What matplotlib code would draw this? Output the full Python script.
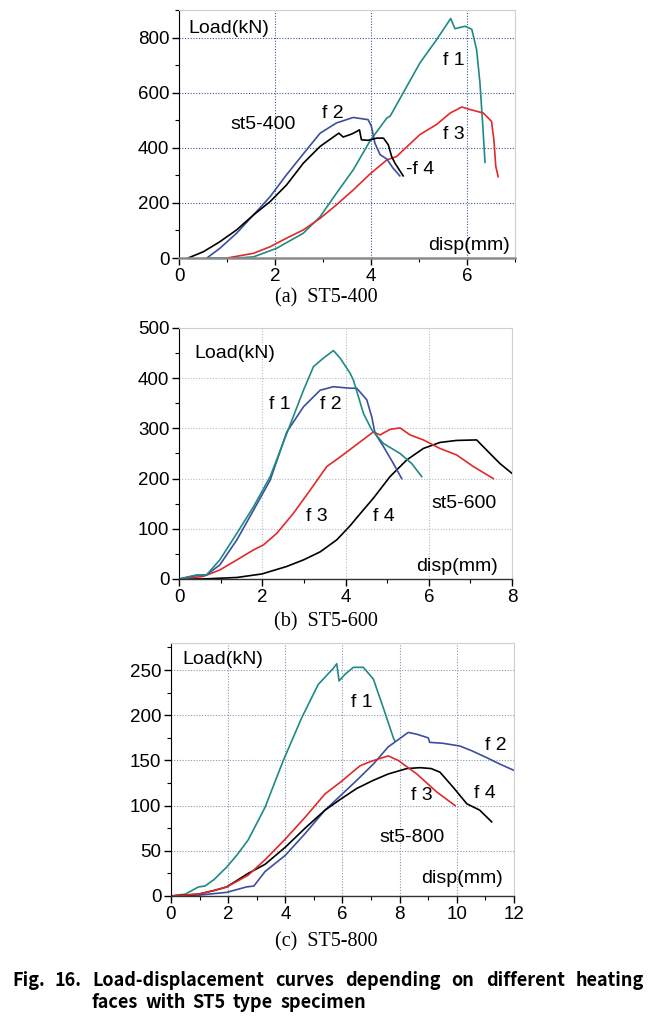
import numpy as np
import matplotlib.pyplot as plt
from matplotlib.ticker import MultipleLocator

plt.rcParams['font.family'] = ['Liberation Sans', 'DejaVu Sans']

TEAL = '#1f8a84'
BLUE = '#3c4f9e'
RED = '#e02a2a'
BLACK = '#000000'

# ---------------- (a) ST5-400 ----------------
a_f1_x = [0.6, 1.2, 1.55, 2.03, 2.59, 2.94, 3.28, 3.63, 3.98, 4.33, 4.4, 4.67, 5.02, 5.37, 5.66, 5.75, 5.96, 6.1, 6.2, 6.27, 6.33, 6.375]
a_f1_y = [0, 0, 4, 35, 90, 150, 235, 320, 425, 508, 515, 599, 708, 793, 869, 832, 841, 830, 756, 635, 477, 347]
a_f2_x = [0.58, 0.85, 1.2, 1.55, 1.9, 2.24, 2.59, 2.94, 3.28, 3.63, 3.94, 4.01, 4.08, 4.19, 4.33, 4.46, 4.6]
a_f2_y = [0, 35, 90, 156, 223, 302, 378, 453, 490, 510, 502, 477, 417, 375, 359, 326, 298]
a_f3_x = [1.0, 1.55, 1.9, 2.24, 2.59, 2.94, 3.28, 3.63, 3.98, 4.33, 4.53, 5.02, 5.37, 5.65, 5.89, 6.06, 6.34, 6.51, 6.56, 6.6, 6.65]
a_f3_y = [0, 17, 41, 72, 102, 144, 193, 247, 305, 356, 368, 448, 485, 526, 548, 539, 526, 496, 429, 332, 295]
a_st_x = [0.19, 0.51, 0.85, 1.2, 1.55, 1.9, 2.24, 2.59, 2.94, 3.28, 3.33, 3.42, 3.6, 3.7, 3.76, 3.8, 3.94, 4.12, 4.26, 4.36, 4.43, 4.5, 4.67]
a_st_y = [0, 23, 59, 102, 156, 205, 265, 344, 405, 447, 453, 439, 450, 459, 465, 429, 427, 435, 435, 411, 368, 344, 298]

# ---------------- (b) ST5-600 ----------------
b_f1_x = [0, 0.42, 0.66, 0.98, 1.39, 1.79, 2.19, 2.59, 2.99, 3.23, 3.47, 3.71, 3.87, 4.11, 4.19, 4.43, 4.63, 4.91, 5.31, 5.59, 5.83]
b_f1_y = [0, 8, 8, 38, 91, 144, 204, 290, 376, 423, 440, 455, 440, 410, 396, 330, 297, 270, 250, 230, 204]
b_f2_x = [0, 0.42, 0.66, 0.98, 1.39, 1.79, 2.19, 2.59, 2.99, 3.39, 3.71, 4.11, 4.27, 4.51, 4.63, 4.71, 4.91, 5.15, 5.35]
b_f2_y = [0, 7, 8, 28, 78, 137, 197, 293, 343, 376, 383, 380, 380, 357, 323, 290, 264, 230, 200]
b_f3_x = [0, 0.58, 0.98, 1.39, 1.79, 2.03, 2.35, 2.75, 3.15, 3.55, 3.87, 4.11, 4.27, 4.67, 4.83, 5.07, 5.31, 5.55, 5.87, 6.27, 6.67, 7.07, 7.55]
b_f3_y = [0, 5, 18, 38, 58, 68, 91, 131, 177, 224, 243, 258, 268, 293, 287, 298, 301, 287, 277, 260, 247, 224, 200]
b_st_x = [0, 0.58, 1.39, 1.99, 2.59, 2.99, 3.39, 3.79, 4.11, 4.27, 4.67, 5.07, 5.47, 5.87, 6.27, 6.67, 7.15, 7.47, 7.71, 7.99]
b_st_y = [0, 0, 3, 10, 25, 38, 54, 78, 106, 122, 161, 204, 237, 260, 272, 276, 277, 250, 230, 211]

# ---------------- (c) ST5-800 ----------------
c_f1_x = [0, 0.5, 0.96, 1.19, 1.5, 1.95, 2.3, 2.7, 3.29, 3.93, 4.57, 5.15, 5.68, 5.8, 5.88, 6.08, 6.38, 6.73, 7.08, 7.43, 7.78, 7.84]
c_f1_y = [0, 2, 10, 11, 18, 32, 45, 62, 98, 150, 197, 234, 252, 257, 238, 245, 253, 253, 240, 208, 175, 171]
c_f2_x = [0, 1.0, 1.95, 2.64, 2.9, 3.29, 4.0, 4.69, 5.39, 5.93, 6.5, 7.08, 7.6, 8.3, 8.6, 9.0, 9.05, 9.5, 10.1, 10.5, 11.05, 11.5, 12.0]
c_f2_y = [0, 1, 4, 10, 11, 27, 45, 69, 95, 111, 128, 146, 165, 181, 179, 175, 170, 169, 166, 161, 153, 146, 139]
c_f3_x = [0, 0.96, 1.5, 1.95, 2.7, 3.29, 4.0, 4.69, 5.39, 5.93, 6.61, 7.0, 7.6, 7.95, 8.6, 9.3, 9.94]
c_f3_y = [0, 2, 6, 10, 23, 40, 63, 87, 113, 126, 144, 149, 155, 150, 135, 115, 100]
c_st_x = [0, 0.96, 1.5, 1.95, 2.7, 3.29, 4.0, 4.69, 5.39, 5.93, 6.5, 7.08, 7.6, 8.25, 8.71, 9.1, 9.41, 9.88, 10.35, 10.8, 11.22]
c_st_y = [0, 2, 6, 10, 25, 35, 54, 75, 95, 107, 119, 128, 135, 141, 142, 141, 137, 120, 102, 95, 82]

panels = [
    dict(rect=[0.2696, 0.7463, 0.506, 0.2439], xlim=7, ylim=900, xmaj=2, ymaj=200,
         grid='#3d5a9c', bottom=('#8a8a8a', 1.8),
         curves=[(a_f1_x, a_f1_y, TEAL), (a_f3_x, a_f3_y, RED),
                 (a_f2_x, a_f2_y, BLUE), (a_st_x, a_st_y, BLACK)],
         labels=[('Load(kN)', 0.2, 833), ('f 1', 5.5, 715), ('f 2', 2.97, 524),
                 ('st5-400', 1.07, 484), ('f 3', 5.5, 447), ('-f 4', 4.73, 322),
                 ('disp(mm)', 5.2, 46)],
         caption='(a)  ST5-400', cap_y=298),
    dict(rect=[0.2696, 0.4307, 0.5015, 0.2468], xlim=8, ylim=500, xmaj=2, ymaj=100,
         grid='#b4bcc6', bottom=('#333333', 1.0),
         curves=[(b_st_x, b_st_y, BLACK), (b_f3_x, b_f3_y, RED),
                 (b_f2_x, b_f2_y, BLUE), (b_f1_x, b_f1_y, TEAL)],
         labels=[('Load(kN)', 0.38, 450), ('f 1', 2.16, 347), ('f 2', 3.38, 347),
                 ('f 3', 3.06, 125), ('f 4', 4.66, 125), ('st5-600', 6.06, 151),
                 ('disp(mm)', 5.7, 25)],
         caption='(b)  ST5-600', cap_y=622),
    dict(rect=[0.2575, 0.1190, 0.5166, 0.2488], xlim=12, ylim=280, xmaj=2, ymaj=50,
         grid='#8896b4', bottom=('#333333', 1.0),
         curves=[(c_f1_x, c_f1_y, TEAL), (c_f2_x, c_f2_y, BLUE),
                 (c_st_x, c_st_y, BLACK), (c_f3_x, c_f3_y, RED)],
         labels=[('Load(kN)', 0.4, 262), ('f 1', 6.3, 214), ('f 2', 11.0, 167),
                 ('f 3', 8.4, 111), ('f 4', 10.6, 113), ('st5-800', 7.3, 65),
                 ('disp(mm)', 8.75, 19)],
         caption='(c)  ST5-800', cap_y=942),
]

W, H = 664, 1017
fig = plt.figure(figsize=(W / 100, H / 100), dpi=100)

for p in panels:
    ax = fig.add_axes(p['rect'])
    for x, y, c in p['curves']:
        ax.plot(x, y, color=c, lw=1.2)
    ax.set_xlim(0, p['xlim'])
    ax.set_ylim(0, p['ylim'])
    ax.xaxis.set_major_locator(MultipleLocator(p['xmaj']))
    ax.xaxis.set_minor_locator(MultipleLocator(p['xmaj'] / 2))
    ax.yaxis.set_major_locator(MultipleLocator(p['ymaj']))
    ax.yaxis.set_minor_locator(MultipleLocator(p['ymaj'] / 2))
    ax.tick_params(which='major', direction='out', length=5, width=1, labelsize=13.5, pad=2)
    ax.tick_params(which='minor', direction='out', length=3, width=0.8)
    ax.grid(True, which='major', color=p['grid'], linestyle=(0, (1, 1.5)), lw=0.8)
    ax.spines['left'].set_color('black')
    ax.spines['bottom'].set_color(p['bottom'][0])
    ax.spines['bottom'].set_linewidth(p['bottom'][1])
    for s in ('top', 'right'):
        ax.spines[s].set_color('#cfcfcf')
    for txt, x, y in p['labels']:
        ax.text(x, y, txt, fontsize=14, va='center', ha='left')
    fig.text(326 / W, 1 - p['cap_y'] / H, p['caption'], family='Liberation Serif',
             fontsize=14.5, ha='center', va='center')

# figure caption, first line justified
cap_font = dict(family=['Noto Sans CJK KR', 'DejaVu Sans'], fontweight='bold', fontsize=13)
renderer = fig.canvas.get_renderer()

def place_words(words, x0, x1, y, gap=7):
    items = [fig.text(0, 1 - y / H, w, ha='left', va='center', **cap_font) for w in words]
    widths = [t.get_window_extent(renderer).width for t in items]
    if x1 is not None:
        gap = (x1 - x0 - sum(widths)) / (len(words) - 1)
    x = x0
    for t, w in zip(items, widths):
        t.set_x(x / W)
        x += w + gap

fig.text(12 / W, 1 - 981 / H, 'Fig.', ha='left', va='center', **cap_font)
fig.text(54 / W, 1 - 981 / H, '16.', ha='left', va='center', **cap_font)
place_words(['Load-displacement', 'curves', 'depending', 'on', 'different', 'heating'], 92, 644, 981)
place_words(['faces', 'with', 'ST5', 'type', 'specimen'], 92, None, 1002)

fig.savefig('out.png', dpi=100)
